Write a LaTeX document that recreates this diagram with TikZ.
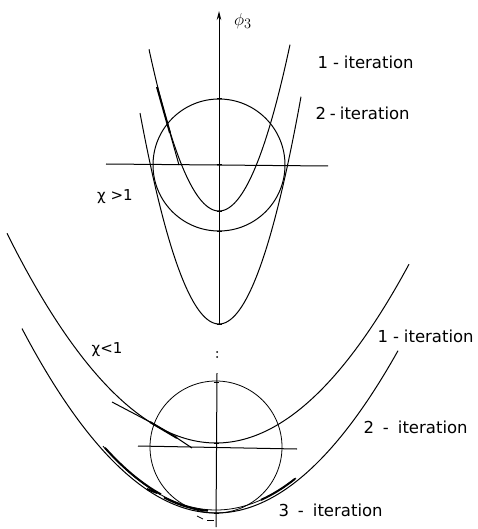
\documentclass[tikz,border=0pt]{standalone}
\usepackage{fontspec}
\setmainfont{DejaVu Sans}
\usetikzlibrary{arrows.meta}
\begin{document}
\begin{tikzpicture}[x=1pt,y=-1pt,line width=1pt,
  lbl/.style={font=\fontsize{16.5}{16.5}\selectfont,inner sep=0pt,anchor=west},
  chilbl/.style={font=\fontsize{15}{15}\selectfont,inner sep=0pt},
  thickseg/.style={line width=2pt},
  tick/.style={line width=1pt}]
\useasboundingbox (0,0) rectangle (477,529);
% ---------- axis ----------
\coordinate (atop) at (219,11);
\coordinate (abot) at (219,324);
\draw[-{Stealth[length=9pt,width=4.5pt]}] (abot) -- (atop);
\node[font=\fontsize{19}{19}\selectfont,inner sep=0pt] (phi) at (243,21) {$\phi_3$};
\fill (217,352) circle (1pt);
\fill (217,357) circle (1pt);
\coordinate (ltop) at (217,373);
\coordinate (lbot) at (216,527);
\draw (ltop) -- (lbot);
% ---------- upper part (chi > 1) ----------
\coordinate (uc) at (219,165);
\draw (uc) circle[radius=66pt];
\coordinate (uhl) at (106,164);
\coordinate (uhr) at (328,166);
\draw (uhl) -- (uhr);
% 1-iteration parabola
\draw[domain=-70:71,samples=80,variable=\t] plot ({219+\t},{211-3.3*(\t/10)*(\t/10)});
% 2-iteration parabola
\draw[domain=-79:82,samples=80,variable=\t] plot ({219+\t},{324-3.38*(\t/10)*(\t/10)});
% tangent at (167,123)
\coordinate (ta) at (157,87);
\coordinate (tb) at (170,133);
\coordinate (tc) at (179,165);
\draw[thickseg] (ta) -- (tb);
\draw (tb) -- (tc);
% ticks
\foreach \yy in {99,165,211,231,324}{\draw[tick] (216.5,\yy) -- (221.5,\yy);}
\node[chilbl] (chig) at (115,197) {χ >1};
\node[lbl] (it1a) at (317,62) {1\kern5pt-\kern5pt iteration};
\node[lbl] (it2a) at (315,113) {2\kern4pt-\kern4pt iteration};
% ---------- lower part (chi < 1) ----------
\coordinate (lc) at (216,447);
\draw[line width=0.8pt] (lc) circle[radius=66pt];
\coordinate (lhl) at (138,446);
\coordinate (lhr) at (297,449);
\draw (lhl) -- (lhr);
% 1-iteration
\draw[domain=-209:193,samples=120,variable=\t] plot ({216+\t},{443-0.48*(\t/10)*(\t/10)});
% 2-iteration
\draw[domain=-194:182,samples=120,variable=\t] plot ({216+\t},{513-0.49*(\t/10)*(\t/10)});
% 3-iteration (close inner curve)
\draw[line width=0.8pt,domain=-113:80,samples=80,variable=\t] plot ({216+\t},{510-0.50*(\t/10)*(\t/10)});
\draw[thickseg,domain=-111:-55,samples=30,variable=\t] plot ({216+\t},{509.5-0.50*(\t/10)*(\t/10)});
\draw[thickseg,domain=-52:-8,samples=30,variable=\t] plot ({216+\t},{511-0.50*(\t/10)*(\t/10)});
\draw[thickseg,domain=45:79,samples=30,variable=\t] plot ({216+\t},{510-0.50*(\t/10)*(\t/10)});
% tangent at (152,423)
\coordinate (la) at (112,402);
\coordinate (lb) at (150,422);
\coordinate (lcc) at (177,438);
\coordinate (ld) at (192,448);
\draw (la) -- (lb);
\draw[thickseg] (lb) -- (lcc);
\draw (lcc) -- (ld);
% small marks
\coordinate (s1) at (147,489);
\coordinate (s2) at (157,493);
\draw[thickseg] (s1) -- (s2);
\coordinate (s7) at (197,516);
\coordinate (s8) at (203,519);
\draw[line width=0.8pt] (s7) -- (s8);
\coordinate (s9) at (207,520);
\coordinate (s10) at (214,520);
\draw[line width=0.8pt] (s9) -- (s10);
\foreach \yy in {382,443,513}{\draw[tick] (213.5,\yy) -- (218.5,\yy);}
\node[chilbl] (chik) at (107,350) {χ<1};
\node[lbl] (it1b) at (377,336) {1\kern5pt-\kern5pt iteration};
\node[lbl] (it2b) at (363,427) {2\kern9pt-\kern9pt iteration};
\node[lbl] (it3b) at (278,510) {3\kern9pt-\kern9pt iteration};
\end{tikzpicture}
\end{document}
